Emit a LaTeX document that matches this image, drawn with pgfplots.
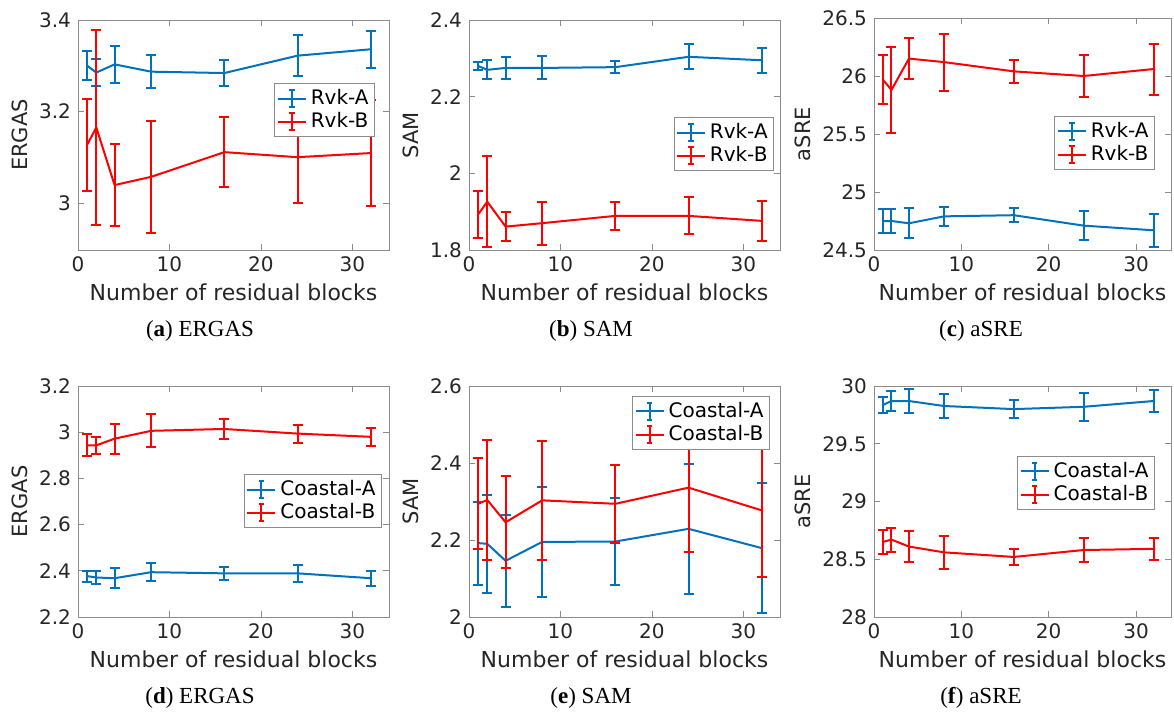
\documentclass[border=0pt]{standalone}
\usepackage{pgfplots}
\pgfplotsset{compat=1.18}
\usepackage{fontspec}
\setmainfont{DejaVu Sans}
\newfontfamily\capfont{Liberation Serif}

\definecolor{mblue}{rgb}{0,0.447,0.741}
\definecolor{mred}{rgb}{1,0,0}

\pgfplotsset{
  panel/.style={
    scale only axis, width=155.5pt, height=115pt,
    xmin=0, xmax=34, xtick={0,10,20,30},
    axis line style={black!45}, tick style={black!45, line width=0.4pt},
    major tick length=3pt,
    ticklabel style={text=black!85, font=\fontsize{10}{11}\selectfont},
    /pgf/number format/assume math mode=true,
    xlabel={Number of residual blocks},
    xlabel style={text=black!85, font=\fontsize{11}{12}\selectfont, yshift=1pt},
    ylabel style={text=black!85, font=\fontsize{10.5}{12}\selectfont, yshift=-1pt},
    legend cell align=left,
    legend style={draw=black!45, fill=white, font=\fontsize{10}{11}\selectfont,
      inner sep=1pt, row sep=-1.5pt, text=black},
    legend image code/.code={
      \draw[#1, line width=1pt] (0pt,0pt) -- (14pt,0pt);
      \draw[#1, line width=1pt] (7pt,-4.2pt) -- (7pt,4.2pt);
      \draw[#1, line width=1pt] (5.6pt,-4.2pt) -- (8.4pt,-4.2pt);
      \draw[#1, line width=1pt] (5.6pt,4.2pt) -- (8.4pt,4.2pt);
    },
  },
  sA/.style={mblue, line width=1pt, mark=none,
    error bars/.cd, y dir=both, y explicit,
    error bar style={line width=1pt},
    error mark options={rotate=90, mark size=2.5pt, line width=1pt, mblue}},
  sB/.style={mred, line width=1pt, mark=none,
    error bars/.cd, y dir=both, y explicit,
    error bar style={line width=1pt},
    error mark options={rotate=90, mark size=2.5pt, line width=1pt, mred}},
}

\begin{document}
\begin{tikzpicture}
\path (0,0) rectangle (587pt,-356.5pt);

% (a) ERGAS, Rvk
\begin{axis}[panel, at={(39pt,-10pt)}, anchor=north west,
  ymin=2.897, ymax=3.4, ytick={3,3.2,3.4}, ylabel={ERGAS},
  legend style={at={(0.955,0.726)}, anchor=north east}]
\addplot[sA] coordinates {
  (1,3.300) +- (0,0.032)
  (2,3.285) +- (0,0.030)
  (4,3.303) +- (0,0.041)
  (8,3.287) +- (0,0.036)
  (16,3.284) +- (0,0.028)
  (24,3.322) +- (0,0.045)
  (32,3.336) +- (0,0.041)
};
\addplot[sB] coordinates {
  (1,3.127) +- (0,0.101)
  (2,3.165) +- (0,0.213)
  (4,3.039) +- (0,0.089)
  (8,3.057) +- (0,0.123)
  (16,3.111) +- (0,0.076)
  (24,3.100) +- (0,0.100)
  (32,3.109) +- (0,0.116)
};
\legend{Rvk-A,Rvk-B}
\end{axis}

% (b) SAM, Rvk
\begin{axis}[panel, at={(234.5pt,-10pt)}, anchor=north west,
  ymin=1.8, ymax=2.4, ytick={1.8,2,2.2,2.4}, ylabel={SAM},
  legend style={at={(0.981,0.578)}, anchor=north east}]
\addplot[sA] coordinates {
  (1,2.280) +- (0,0.011)
  (2,2.270) +- (0,0.025)
  (4,2.275) +- (0,0.028)
  (8,2.275) +- (0,0.030)
  (16,2.277) +- (0,0.016)
  (24,2.304) +- (0,0.033)
  (32,2.295) +- (0,0.033)
};
\addplot[sB] coordinates {
  (1,1.893) +- (0,0.061)
  (2,1.926) +- (0,0.118)
  (4,1.861) +- (0,0.038)
  (8,1.870) +- (0,0.056)
  (16,1.889) +- (0,0.036)
  (24,1.889) +- (0,0.048)
  (32,1.876) +- (0,0.053)
};
\legend{Rvk-A,Rvk-B}
\end{axis}

% (c) aSRE, Rvk
\begin{axis}[panel, at={(437pt,-9pt)}, anchor=north west, width=148.5pt, height=116pt,
  ymin=24.5, ymax=26.5, ytick={24.5,25,25.5,26,26.5}, ylabel={aSRE},
  legend style={at={(0.946,0.578)}, anchor=north east}]
\addplot[sA] coordinates {
  (1,24.75) +- (0,0.10)
  (2,24.75) +- (0,0.10)
  (4,24.73) +- (0,0.13)
  (8,24.79) +- (0,0.085)
  (16,24.80) +- (0,0.06)
  (24,24.71) +- (0,0.125)
  (32,24.67) +- (0,0.14)
};
\addplot[sB] coordinates {
  (1,25.97) +- (0,0.21)
  (2,25.88) +- (0,0.37)
  (4,26.15) +- (0,0.18)
  (8,26.12) +- (0,0.245)
  (16,26.04) +- (0,0.10)
  (24,26.00) +- (0,0.18)
  (32,26.06) +- (0,0.22)
};
\legend{Rvk-A,Rvk-B}
\end{axis}

% (d) ERGAS, Coastal
\begin{axis}[panel, at={(39pt,-193pt)}, anchor=north west, height=115.5pt,
  ymin=2.2, ymax=3.2, ytick={2.2,2.4,2.6,2.8,3,3.2}, ylabel={ERGAS},
  legend style={at={(0.977,0.619)}, anchor=north east}]
\addplot[sA] coordinates {
  (1,2.377) +- (0,0.024)
  (2,2.371) +- (0,0.029)
  (4,2.368) +- (0,0.043)
  (8,2.394) +- (0,0.040)
  (16,2.389) +- (0,0.027)
  (24,2.389) +- (0,0.037)
  (32,2.368) +- (0,0.033)
};
\addplot[sB] coordinates {
  (1,2.943) +- (0,0.048)
  (2,2.943) +- (0,0.036)
  (4,2.972) +- (0,0.065)
  (8,3.006) +- (0,0.072)
  (16,3.014) +- (0,0.043)
  (24,2.994) +- (0,0.039)
  (32,2.980) +- (0,0.040)
};
\legend{Coastal-A,Coastal-B}
\end{axis}

% (e) SAM, Coastal
\begin{axis}[panel, at={(234.5pt,-193pt)}, anchor=north west, height=115.5pt,
  ymin=2, ymax=2.6, ytick={2,2.2,2.4,2.6}, ylabel={SAM},
  legend style={at={(0.968,0.957)}, anchor=north east}]
\addplot[sA] coordinates {
  (1,2.192) +- (0,0.108)
  (2,2.190) +- (0,0.128)
  (4,2.146) +- (0,0.120)
  (8,2.195) +- (0,0.143)
  (16,2.196) +- (0,0.112)
  (24,2.229) +- (0,0.168)
  (32,2.179) +- (0,0.168)
};
\addplot[sB] coordinates {
  (1,2.294) +- (0,0.118)
  (2,2.304) +- (0,0.155)
  (4,2.246) +- (0,0.120)
  (8,2.303) +- (0,0.155)
  (16,2.294) +- (0,0.102)
  (24,2.336) +- (0,0.168)
  (32,2.277) +- (0,0.174)
};
\legend{Coastal-A,Coastal-B}
\end{axis}

% (f) aSRE, Coastal
\begin{axis}[panel, at={(437pt,-193pt)}, anchor=north west, width=148.5pt, height=115.5pt,
  ymin=28, ymax=30, ytick={28,28.5,29,29.5,30}, ylabel={aSRE},
  legend style={at={(0.946,0.697)}, anchor=north east}]
\addplot[sA] coordinates {
  (1,29.835) +- (0,0.072)
  (2,29.870) +- (0,0.090)
  (4,29.870) +- (0,0.105)
  (8,29.827) +- (0,0.108)
  (16,29.800) +- (0,0.080)
  (24,29.820) +- (0,0.123)
  (32,29.870) +- (0,0.095)
};
\addplot[sB] coordinates {
  (1,28.65) +- (0,0.104)
  (2,28.67) +- (0,0.104)
  (4,28.61) +- (0,0.133)
  (8,28.56) +- (0,0.140)
  (16,28.52) +- (0,0.070)
  (24,28.58) +- (0,0.100)
  (32,28.59) +- (0,0.095)
};
\legend{Coastal-A,Coastal-B}
\end{axis}

% sub-captions
\begin{scope}[every node/.style={font=\capfont\fontsize{11.5}{13}\selectfont, inner sep=0pt}]
\node at (100pt,-165.5pt) {(\textbf{a}) ERGAS};
\node at (295.5pt,-165.5pt) {(\textbf{b}) SAM};
\node at (490.5pt,-165.5pt) {(\textbf{c}) aSRE};
\node at (100pt,-349pt) {(\textbf{d}) ERGAS};
\node at (295.5pt,-349pt) {(\textbf{e}) SAM};
\node at (490.5pt,-349pt) {(\textbf{f}) aSRE};
\end{scope}
\end{tikzpicture}
\end{document}
